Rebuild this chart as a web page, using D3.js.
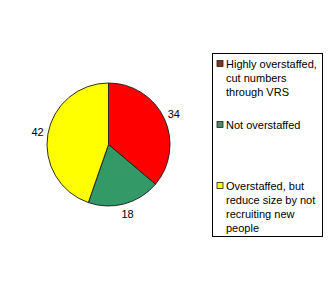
<!DOCTYPE html>
<html>
<head>
<meta charset="utf-8">
<script src="https://cdn.jsdelivr.net/npm/d3@7"></script>
<style>
  html, body { margin: 0; padding: 0; background: #fff; }
  svg { display: block; }
  text { font-family: "Liberation Sans", Arial, sans-serif; font-size: 11px; fill: #000; }
</style>
</head>
<body>
<svg id="chart" width="332" height="290"></svg>
<script>
const categories = [
  "Highly overstaffed,\ncut numbers\nthrough VRS",
  "Not overstaffed",
  "Overstaffed, but\nreduce size by not\nrecruiting new\npeople"
];
const values = [34, 18, 42];
const sliceColors = ["#ff0000", "#339966", "#ffff00"];
const swatchColors = ["#7e3519", "#4a8a6a", "#ffff00"];

const svg = d3.select("#chart");

// Pie
const cx = 108.5, cy = 144.5, radius = 61.5;
const pie = d3.pie().sort(null).value(d => d)(values);
const arc = d3.arc().innerRadius(0).outerRadius(radius);
const labelArc = d3.arc().innerRadius(72).outerRadius(72);

const g = svg.append("g").attr("transform", `translate(${cx},${cy})`);
g.selectAll("path.slice")
  .data(pie)
  .join("path")
  .attr("class", "slice")
  .attr("d", arc)
  .attr("fill", (d, i) => sliceColors[i])
  .attr("stroke", "#1a1a1a")
  .attr("stroke-width", 0.9);

g.selectAll("text.lbl")
  .data(pie)
  .join("text")
  .attr("class", "lbl")
  .attr("transform", d => {
    const [x, y] = labelArc.centroid(d);
    return `translate(${x},${y})`;
  })
  .attr("text-anchor", "middle")
  .attr("dy", "0.36em")
  .text(d => d.data);

// Legend
const lx = 212.5, ly = 53.5, lw = 110, lh = 183;
svg.append("rect")
  .attr("x", lx).attr("y", ly).attr("width", lw).attr("height", lh)
  .attr("fill", "#fff").attr("stroke", "#000").attr("stroke-width", 1);

const itemY = d3.scalePoint().domain(d3.range(categories.length)).range([63.5, 185.5]);
const lineH = 14;

const items = svg.selectAll("g.item")
  .data(categories)
  .join("g")
  .attr("class", "item")
  .attr("transform", (d, i) => `translate(0,${itemY(i)})`);

items.append("rect")
  .attr("x", 217).attr("y", -3)
  .attr("width", 6).attr("height", 6)
  .attr("fill", (d, i) => swatchColors[i])
  .attr("stroke", "#222").attr("stroke-width", 0.8);

items.append("text")
  .attr("x", 226)
  .selectAll("tspan")
  .data(d => d.split("\n"))
  .join("tspan")
  .attr("x", 226)
  .attr("y", (d, j) => j * lineH + 4)
  .text(d => d);
</script>
</body>
</html>
